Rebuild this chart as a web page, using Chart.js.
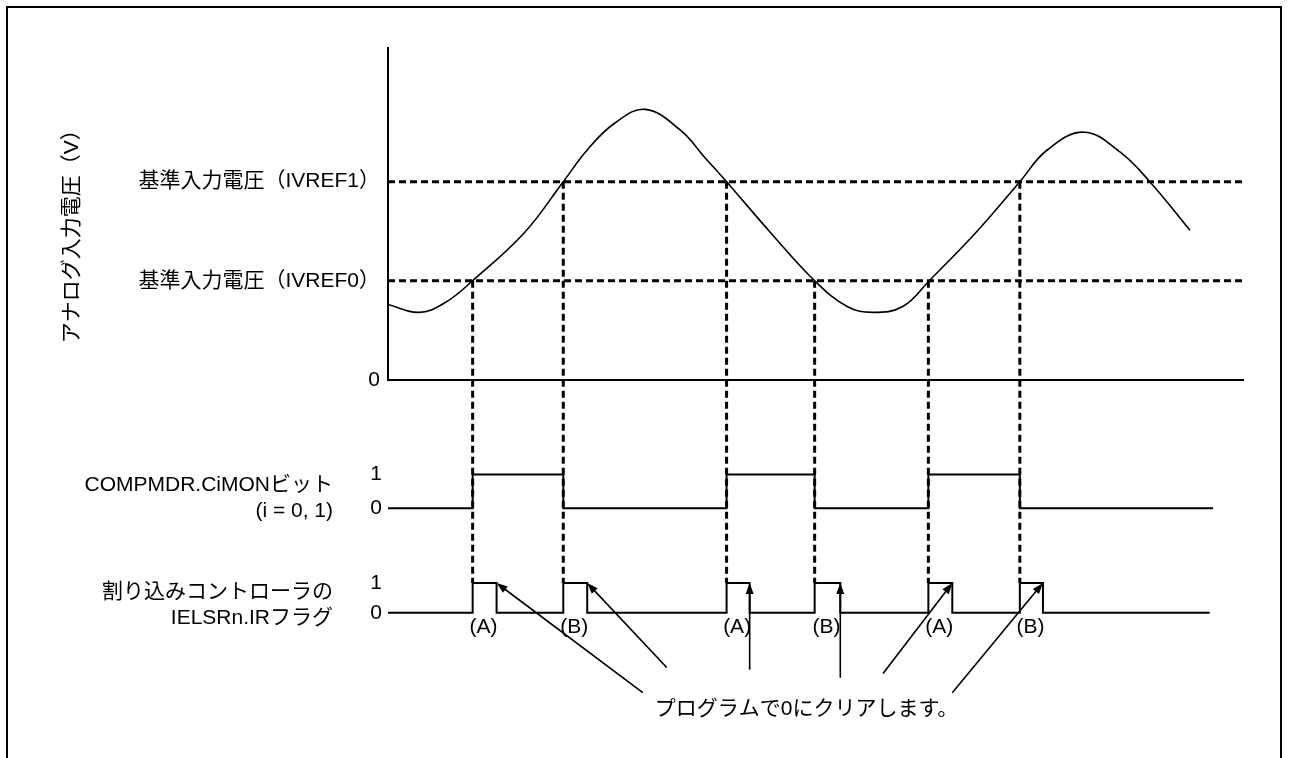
<!DOCTYPE html>
<html>
<head>
<meta charset="utf-8">
<script src="https://cdn.jsdelivr.net/npm/chart.js@4.4.1/dist/chart.umd.min.js"></script>
<style>
  html, body { margin: 0; padding: 0; background: #fff; }
  #wrap { position: relative; width: 1289px; height: 758px; overflow: hidden; }
  #frame { position: absolute; left: 6px; top: 6px; width: 1272px; height: 800px; border: 2px solid #000; }
  #grafico { position: absolute; left: 0; top: 0; }
</style>
</head>
<body>
<div id="wrap">
  <div id="frame"></div>
  <canvas id="grafico" width="1289" height="758"></canvas>
</div>
<script>
// time runs 0..100 (arbitrary units), voltage in units of IVREF0
const tMax = 100;

// analog input voltage
const sineT = [0, 3.6, 6.7, 9.9, 16.0, 20.5, 23.3, 26.5, 30.1, 34.2, 37.1, 39.6, 44.7, 49.9, 53.7, 56.7, 60.2, 63.3, 68.9, 73.9, 77.1, 81.4, 85.6, 89.1, 93.8];
const sineV = [0.76, 0.68, 0.78, 1.0, 1.49, 2.0, 2.32, 2.59, 2.73, 2.52, 2.24, 2.0, 1.49, 1.0, 0.74, 0.68, 0.74, 1.0, 1.5, 2.0, 2.32, 2.50, 2.30, 2.0, 1.51];

// reference levels and y tick labels
const vTicks = [0, 1, 2];
const vTickLabels = ["0", "基準入力電圧（IVREF0）", "基準入力電圧（IVREF1）"];
const refLevels = [1, 2];
const vTitle = "アナログ入力電圧（V）";

// crossing times, which reference is crossed, and when the flag is cleared
const crossT = [9.9, 20.5, 39.6, 49.9, 63.2, 73.9];
const crossRef = [1, 2, 2, 1, 1, 2];
const clearT = [12.7, 23.3, 42.3, 52.9, 66.0, 76.6];
const flagNames = ["(A)", "(B)", "(A)", "(B)", "(A)", "(B)"];
const cmpEndT = 96.5;
const irEndT = 96.1;

// digital rows
const bitTicks = [0, 1];
const cmpLabel = ["COMPMDR.CiMONビット", "(i = 0, 1)"];
const irLabel = ["割り込みコントローラの", "IELSRn.IRフラグ"];

// note with arrows (tail positions in time / IR-row units)
const noteText = "プログラムで0にクリアします。";
const noteT = 31.2;
const noteV = -3.23;
const arrowTailT = [29.8, 32.6, 42.3, 52.9, 57.9, 66.0];
const arrowTailV = [-2.67, -1.83, -1.9, -2.17, -2.03, -2.67];

const fonte = "'Liberation Sans', 'Noto Sans CJK JP', sans-serif";
Chart.defaults.font.family = fonte;
Chart.defaults.font.size = 21;
Chart.defaults.color = "#000";

function stepPoints(edges, endT) {
    let pts = [{ x: 0, y: 0 }];
    let level = 0;
    edges.forEach(t => {
        pts.push({ x: t, y: level });
        level = 1 - level;
        pts.push({ x: t, y: level });
    });
    pts.push({ x: endT, y: level });
    return pts;
}

let irEdges = [];
crossT.forEach((t, i) => { irEdges.push(t, clearT[i]); });

const datasets = [
    {
        data: sineT.map((t, i) => ({ x: t, y: sineV[i] })),
        yAxisID: "yV", borderColor: "#000", borderWidth: 1.6,
        pointRadius: 0, tension: 0.4
    },
    ...refLevels.map(v => ({
        data: [{ x: 0, y: v }, { x: tMax, y: v }],
        yAxisID: "yV", borderColor: "#000", borderWidth: 3,
        borderDash: [7, 4], pointRadius: 0
    })),
    {
        data: stepPoints(crossT, cmpEndT),
        yAxisID: "yC", borderColor: "#000", borderWidth: 2, pointRadius: 0
    },
    {
        data: stepPoints(irEdges, irEndT),
        yAxisID: "yI", borderColor: "#000", borderWidth: 2, pointRadius: 0
    }
];

function seta(ctx, x0, y0, x1, y1) {
    const ang = Math.atan2(y1 - y0, x1 - x0);
    const len = 11, half = 4;
    ctx.beginPath();
    ctx.moveTo(x0, y0);
    ctx.lineTo(x1 - Math.cos(ang) * len * 0.8, y1 - Math.sin(ang) * len * 0.8);
    ctx.stroke();
    ctx.beginPath();
    ctx.moveTo(x1, y1);
    ctx.lineTo(x1 - Math.cos(ang) * len - Math.sin(ang) * half, y1 - Math.sin(ang) * len + Math.cos(ang) * half);
    ctx.lineTo(x1 - Math.cos(ang) * len + Math.sin(ang) * half, y1 - Math.sin(ang) * len - Math.cos(ang) * half);
    ctx.closePath();
    ctx.fill();
}

const extras = {
    id: "extras",
    afterDatasetsDraw(chart) {
        const ctx = chart.ctx;
        const { x, yV, yC, yI } = chart.scales;
        const left = chart.chartArea.left;
        ctx.save();
        ctx.strokeStyle = "#000";
        ctx.fillStyle = "#000";

        // dashed drop lines from the crossings to the flag rows
        ctx.lineWidth = 3;
        ctx.setLineDash([7, 4]);
        crossT.forEach((t, i) => {
            const px = x.getPixelForValue(t);
            ctx.beginPath();
            ctx.moveTo(px, yV.getPixelForValue(crossRef[i]));
            ctx.lineTo(px, yI.getPixelForValue(1));
            ctx.stroke();
        });
        ctx.setLineDash([]);

        // arrows to the cleared flags
        ctx.lineWidth = 1.6;
        clearT.forEach((t, i) => {
            seta(ctx, x.getPixelForValue(arrowTailT[i]), yI.getPixelForValue(arrowTailV[i]),
                x.getPixelForValue(t), yI.getPixelForValue(1));
        });

        ctx.font = "21px " + fonte;
        ctx.textBaseline = "middle";

        // (A) / (B)
        ctx.textAlign = "center";
        crossT.forEach((t, i) => {
            const cx = (x.getPixelForValue(t) + x.getPixelForValue(clearT[i])) / 2;
            ctx.fillText(flagNames[i], cx - 1, yI.getPixelForValue(0) + 14);
        });

        // note
        ctx.textAlign = "left";
        ctx.fillText(noteText, x.getPixelForValue(noteT), yI.getPixelForValue(noteV));

        // row names
        ctx.textAlign = "right";
        const cMid = (yC.getPixelForValue(0) + yC.getPixelForValue(1)) / 2;
        ctx.fillText(cmpLabel[0], left - 55, cMid - 6);
        ctx.fillText(cmpLabel[1], left - 55, cMid + 20);
        const iMid = (yI.getPixelForValue(0) + yI.getPixelForValue(1)) / 2;
        ctx.fillText(irLabel[0], left - 55, iMid - 6);
        ctx.fillText(irLabel[1], left - 55, iMid + 20);

        // y title, rotated
        ctx.translate(72, yV.getPixelForValue(1.5));
        ctx.rotate(-Math.PI / 2);
        ctx.textAlign = "center";
        ctx.fillText(vTitle, 0, 0);
        ctx.restore();
    }
};

function bitAxis(weight, min, max) {
    return {
        type: "linear", position: "left", stack: "sinal", stackWeight: weight,
        min: min, max: max,
        grid: { display: false, drawTicks: false },
        border: { display: false },
        ticks: { padding: 6, callback: v => String(v) },
        afterBuildTicks: s => { s.ticks = bitTicks.map(v => ({ value: v })); },
        afterFit: s => { s.width = 388; }
    };
}

const ctx = document.getElementById("grafico").getContext("2d");
const chart = new Chart(ctx, {
    type: "line",
    data: { datasets },
    options: {
        responsive: false,
        animation: false,
        events: [],
        layout: { padding: { left: 0, top: 48, right: 46, bottom: 18 } },
        plugins: { legend: { display: false }, tooltip: { enabled: false } },
        scales: {
            x: {
                type: "linear", min: 0, max: tMax, position: { yV: 0 },
                grid: { display: false, drawTicks: false },
                ticks: { display: false },
                border: { display: true, color: "#000", width: 2 }
            },
            // stacked rows are placed bottom-up in the order given here
            yI: bitAxis(200, -4.167, 2.5),
            yC: bitAxis(159, -0.882, 3.794),
            yV: {
                type: "linear", position: "left", stack: "sinal", stackWeight: 333,
                min: 0, max: 3.35,
                grid: { display: false, drawTicks: false },
                border: { display: true, color: "#000", width: 2 },
                ticks: {
                    padding: 8,
                    callback: v => vTickLabels[vTicks.indexOf(v)]
                },
                afterBuildTicks: s => { s.ticks = vTicks.map(v => ({ value: v })); },
                afterFit: s => { s.width = 388; }
            }
        }
    },
    plugins: [extras]
});
</script>
</body>
</html>
